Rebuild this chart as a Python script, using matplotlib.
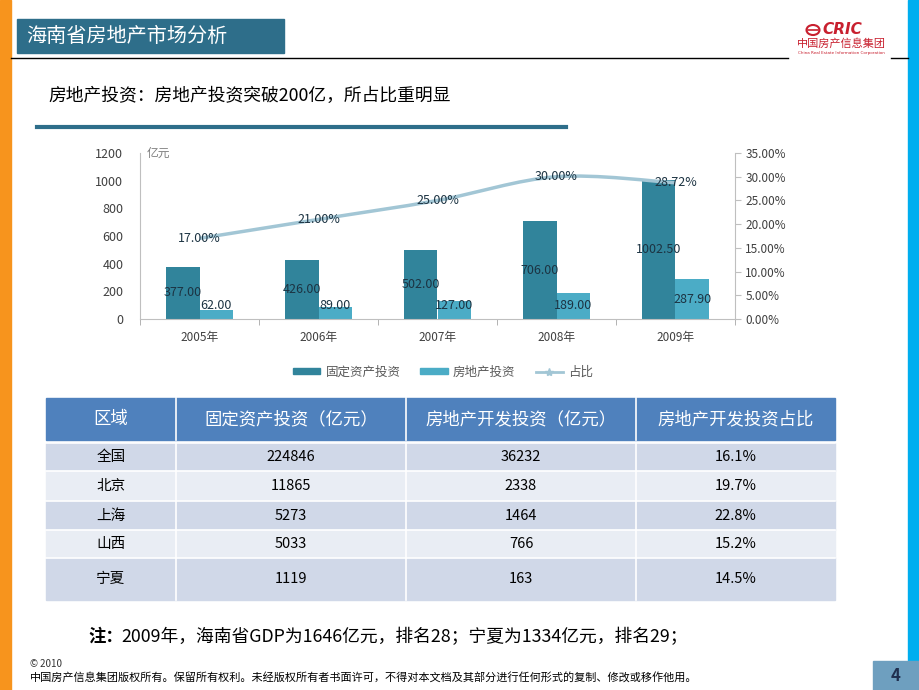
import numpy as np
import matplotlib
matplotlib.use("Agg")
from matplotlib import pyplot as plt
from matplotlib.patches import Rectangle, PathPatch, Ellipse
from matplotlib.path import Path
from matplotlib.lines import Line2D

plt.rcParams['font.family'] = ['Noto Sans CJK SC', 'DejaVu Sans']

# chart data
years = ['2005年', '2006年', '2007年', '2008年', '2009年']
fixed_invest = [377.00, 426.00, 502.00, 706.00, 1002.50]
estate_invest = [62.00, 89.00, 127.00, 189.00, 287.90]
share_pct = [17.00, 21.00, 25.00, 30.00, 28.72]

# table data
table_header = ['区域', '固定资产投资（亿元）', '房地产开发投资（亿元）', '房地产开发投资占比']
regions = ['全国', '北京', '上海', '山西', '宁夏']
region_fixed = ['224846', '11865', '5273', '5033', '1119']
region_estate = ['36232', '2338', '1464', '766', '163']
region_share = ['16.1%', '19.7%', '22.8%', '15.2%', '14.5%']

dark = '#31849B'
light = '#4BACC6'
line_c = '#A2C6D5'
teal = '#2E6E8A'

fig = plt.figure(figsize=(9.2, 6.9), dpi=100)
bg = fig.add_axes([0, 0, 1, 1])
bg.set_xlim(0, 920)
bg.set_ylim(690, 0)
bg.axis('off')

# side bars and header
bg.add_patch(Rectangle((0, 0), 11, 690, color='#F7941D'))
bg.add_patch(Rectangle((908, 0), 12, 661, color='#00AEEF'))
bg.add_patch(Rectangle((873, 661), 47, 29, color='#6E9FBF'))
bg.text(896, 676, '4', color='#1F2F4F', fontsize=12, fontweight='bold', ha='center', va='center')
bg.add_patch(Rectangle((17, 19), 267, 34, color=teal))
bg.text(26, 36, '海南省房地产市场分析', color='white', fontsize=14.5, va='center')
bg.plot([11, 788], [58, 58], color='black', lw=1)
bg.plot([891, 908], [58, 58], color='black', lw=1)

# logo
bg.add_patch(Ellipse((813, 30), 13, 10, fill=False, ec='#C8202F', lw=1.5))
bg.plot([808, 818], [30, 30], color='#C8202F', lw=1.2)
bg.text(822, 30, 'CRIC', color='#C8202F', fontsize=11, fontweight='bold', style='italic',
        va='center', family='DejaVu Sans')
bg.text(841, 44, '中国房产信息集团', color='#C8202F', fontsize=8, ha='center', va='center')
bg.text(841, 53, 'China Real Estate Information Corporation', color='#C8202F', fontsize=3,
        ha='center', va='center', family='DejaVu Sans')

bg.text(48, 96, '房地产投资：房地产投资突破200亿，所占比重明显', fontsize=12.8, va='center')
bg.plot([37, 566], [127, 127], color=teal, lw=3)

# chart
ax = fig.add_axes([140 / 920, 1 - 319 / 690, (735 - 140) / 920, (319 - 153) / 690])
x = np.arange(len(years))
w = 0.28
ax.bar(x - w / 2, fixed_invest, width=w, color=dark, zorder=2)
ax.bar(x + w / 2, estate_invest, width=w, color=light, zorder=2)
ax.set_xlim(-0.5, len(years) - 0.5)
ax.set_ylim(0, 1200)
ax.set_yticks(range(0, 1201, 200))
ax.set_xticks(x)
ax.set_xticklabels(years)
ax.set_xticks(np.arange(-0.5, len(years), 1), minor=True)
ax.tick_params(axis='x', which='major', length=0, pad=9, labelsize=8.5, labelcolor='#404040')
ax.tick_params(axis='x', which='minor', length=4, color='#A6A6A6')
ax.tick_params(axis='y', length=0, labelsize=9, labelcolor='#404040', pad=12)
for s in ['top', 'right']:
    ax.spines[s].set_visible(False)
for s in ['left', 'bottom']:
    ax.spines[s].set_color('#BFBFBF')
ax.patch.set_alpha(0)
ax.text(0.012, 1.0, '亿元', transform=ax.transAxes, fontsize=8.5, color='#7F7F7F', va='center')

for i in range(len(years)):
    ax.text(x[i] - w / 2, fixed_invest[i] / 2, f'{fixed_invest[i]:.2f}', ha='center', va='center',
            fontsize=9, color='#1C3342', zorder=5)
    ax.text(x[i] + w / 2, max(estate_invest[i] / 2, 95), f'{estate_invest[i]:.2f}', ha='center',
            va='center', fontsize=9, color='#1C3342', zorder=5)

ax2 = ax.twinx()
ax2.set_ylim(0, 35)
ax2.set_yticks(np.arange(0, 36, 5))
ax2.set_yticklabels([f'{v:.2f}%' for v in np.arange(0, 36, 5)])
ax2.tick_params(axis='y', length=4, color='#BFBFBF', labelsize=8.5, labelcolor='#404040')
for s in ['top', 'left', 'bottom']:
    ax2.spines[s].set_visible(False)
ax2.spines['right'].set_color('#BFBFBF')

# smoothed line (Catmull-Rom -> bezier)
pts = np.column_stack([x, share_pct]).astype(float)
verts = [pts[0]]
codes = [Path.MOVETO]
for i in range(len(pts) - 1):
    p0 = pts[max(i - 1, 0)]
    p1 = pts[i]
    p2 = pts[i + 1]
    p3 = pts[min(i + 2, len(pts) - 1)]
    c1 = p1 + (p2 - p0) / 6
    c2 = p2 - (p3 - p1) / 6
    verts += [c1, c2, p2]
    codes += [Path.CURVE4] * 3
ax2.add_patch(PathPatch(Path(verts, codes), fill=False, ec=line_c, lw=2.5, zorder=3))
for i in range(len(years)):
    ax2.text(x[i], share_pct[i], f'{share_pct[i]:.2f}%', ha='center', va='center',
             fontsize=9, color='#1C3342', zorder=5)

handles = [Rectangle((0, 0), 1, 1, color=dark), Rectangle((0, 0), 1, 1, color=light),
           Line2D([], [], color=line_c, lw=2, marker='*', markersize=6)]
fig.legend(handles, ['固定资产投资', '房地产投资', '占比'], loc='center',
           bbox_to_anchor=(443 / 920, 1 - 372 / 690), ncol=3, frameon=False,
           fontsize=9, labelcolor='#595959', handlelength=2.2, handleheight=0.4,
           columnspacing=1.6, handletextpad=0.4)

# table
col_x = [46, 176, 406, 636, 835]
row_y = [398, 440, 443, 471, 501, 530, 558, 600]
bg.add_patch(Rectangle((col_x[0], row_y[0]), col_x[-1] - col_x[0], row_y[1] - row_y[0], color='#4F81BD'))
for j, h in enumerate(table_header):
    bg.text((col_x[j] + col_x[j + 1]) / 2, (row_y[0] + row_y[1]) / 2, h, color='white',
            fontsize=12.5, ha='center', va='center')
for j in range(1, 4):
    bg.plot([col_x[j], col_x[j]], [row_y[0], row_y[1]], color='white', lw=1.2)
rows = list(zip(regions, region_fixed, region_estate, region_share))
for r, vals in enumerate(rows):
    y0, y1 = row_y[r + 2], row_y[r + 3]
    fc = '#D0D8E8' if r % 2 == 0 else '#E9EDF4'
    bg.add_patch(Rectangle((col_x[0], y0), col_x[-1] - col_x[0], y1 - y0, color=fc))
    for j, v in enumerate(vals):
        bg.text((col_x[j] + col_x[j + 1]) / 2, (y0 + y1) / 2, v, fontsize=10.5,
                ha='center', va='center')
    bg.plot([col_x[0], col_x[-1]], [y0, y0], color='white', lw=1.2)
    for j in range(1, 4):
        bg.plot([col_x[j], col_x[j]], [y0, y1], color='white', lw=1.2)

bg.text(88, 637, '注：', fontsize=12.5, fontweight='bold', va='center')
bg.text(121, 637, '2009年，海南省GDP为1646亿元，排名28；宁夏为1334亿元，排名29；', fontsize=12.8, va='center')
bg.text(30, 664, '© 2010', fontsize=7, va='center', color='#333333')
bg.text(30, 678, '中国房产信息集团版权所有。保留所有权利。未经版权所有者书面许可，不得对本文档及其部分进行任何形式的复制、修改或移作他用。',
        fontsize=8, va='center')

fig.savefig('out.png', dpi=100)
